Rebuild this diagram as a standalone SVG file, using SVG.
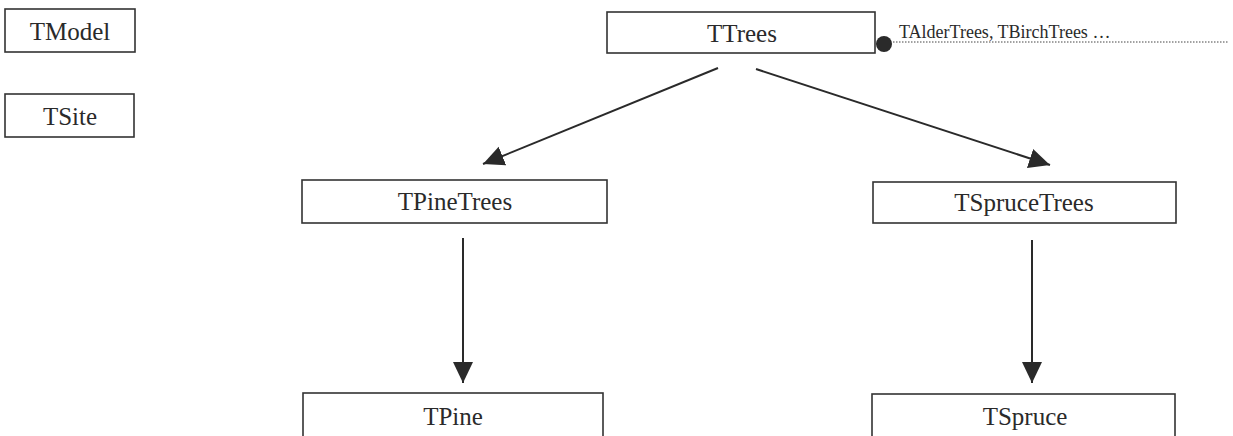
<svg xmlns="http://www.w3.org/2000/svg" width="1233" height="436" viewBox="0 0 1233 436">
<style>
.box{fill:#fff;stroke:#333;stroke-width:1.6}
.lbl{font-family:'Times New Roman','Liberation Serif','DejaVu Serif',serif;font-size:25px;fill:#2a2a2a;text-anchor:middle}
.small{font-family:'Times New Roman','Liberation Serif','DejaVu Serif',serif;font-size:18px;fill:#2a2a2a}
.edge{stroke:#2a2a2a;stroke-width:2;fill:none}
</style>
<defs>
<marker id="ah" markerUnits="userSpaceOnUse" markerWidth="22" markerHeight="22" viewBox="0 0 22 22" refX="21" refY="11" orient="auto">
<path d="M0,1 L21,11 L0,21 Z" fill="#2a2a2a"/>
</marker>
</defs>
<rect width="1233" height="436" fill="#fff"/>
<g id="TModel"><rect class="box" x="5" y="9" width="130" height="43"/><text class="lbl" x="70" y="40">TModel</text></g>
<g id="TSite"><rect class="box" x="5" y="94" width="129" height="43"/><text class="lbl" x="70" y="125">TSite</text></g>
<g id="TTrees"><rect class="box" x="607" y="12" width="268" height="41"/><text class="lbl" x="742" y="42">TTrees</text></g>
<g id="TAlderTrees">
<circle cx="884" cy="44" r="8" fill="#2a2a2a"/>
<text class="small" x="899" y="38">TAlderTrees, TBirchTrees …</text>
<line x1="893" y1="42" x2="1229" y2="42" stroke="#444" stroke-width="1" stroke-dasharray="1.5,1.5"/>
</g>
<g id="TPineTrees"><rect class="box" x="302" y="180" width="305" height="43"/><text class="lbl" x="455" y="210">TPineTrees</text></g>
<g id="TSpruceTrees"><rect class="box" x="873" y="182" width="303" height="41"/><text class="lbl" x="1024" y="211">TSpruceTrees</text></g>
<g id="TPine"><rect class="box" x="303" y="393" width="300" height="50"/><text class="lbl" x="453" y="425">TPine</text></g>
<g id="TSpruce"><rect class="box" x="872" y="394" width="303" height="50"/><text class="lbl" x="1025" y="425">TSpruce</text></g>
<g id="connectors">
<line class="edge" x1="718" y1="68" x2="483" y2="164" marker-end="url(#ah)"/>
<line class="edge" x1="756" y1="69" x2="1050" y2="165" marker-end="url(#ah)"/>
<line class="edge" x1="463" y1="238" x2="463" y2="383" marker-end="url(#ah)"/>
<line class="edge" x1="1032" y1="240" x2="1032" y2="383" marker-end="url(#ah)"/>
</g>
</svg>
